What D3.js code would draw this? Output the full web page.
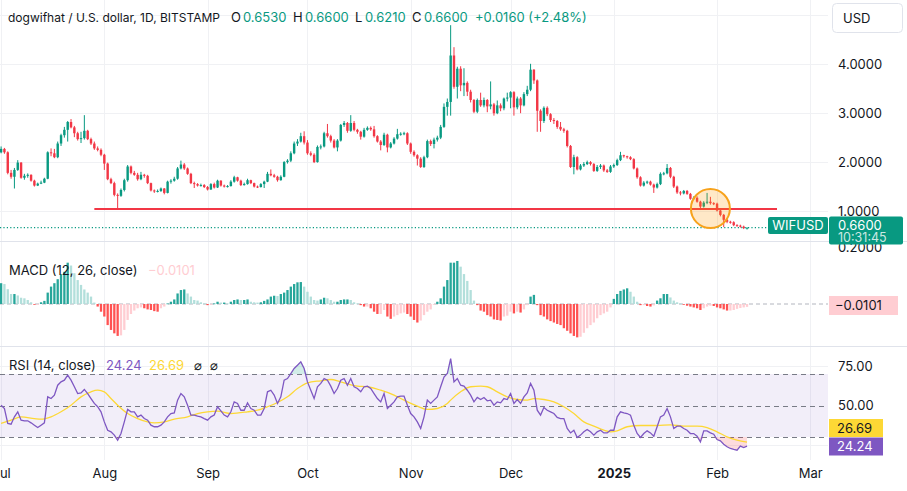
<!DOCTYPE html>
<html>
<head>
<meta charset="utf-8">
<script src="https://cdn.jsdelivr.net/npm/d3@7"></script>
<style>
  body { margin: 0; background: #fff; }
  svg { display: block; font-family: Inter, "Noto Sans", sans-serif; }
</style>
</head>
<body>
<svg></svg>
<script>
// ---- data (1 Jul 2024 .. 10 Feb 2025) ----
const startDay = "2024-07-01";
const firstOpen = 2.20;

const closes = [
  2.27, 2.20, 1.78, 1.70, 1.84, 1.99, 1.68, 1.72, 1.74, 1.62,
  1.52, 1.56, 1.58, 1.66, 2.20, 2.18, 2.10, 2.38, 2.55, 2.66,
  2.82, 2.71, 2.59, 2.47, 2.49, 2.64, 2.47, 2.38, 2.28, 2.25,
  2.15, 1.97, 1.65, 1.57, 1.33, 1.31, 1.43, 1.63, 1.91, 1.78,
  1.74, 1.65, 1.74, 1.72, 1.57, 1.42, 1.40, 1.41, 1.46, 1.37,
  1.60, 1.62, 1.66, 1.87, 1.95, 1.87, 1.76, 1.57, 1.55, 1.52,
  1.53, 1.49, 1.44, 1.55, 1.48, 1.62, 1.52, 1.50, 1.51, 1.60,
  1.69, 1.62, 1.53, 1.55, 1.63, 1.57, 1.50, 1.49, 1.55, 1.60,
  1.76, 1.73, 1.70, 1.63, 1.70, 2.00, 2.03, 2.18, 2.38, 2.42,
  2.53, 2.40, 2.18, 2.15, 2.00, 2.31, 2.32, 2.59, 2.53, 2.44,
  2.30, 2.44, 2.76, 2.80, 2.64, 2.80, 2.66, 2.62, 2.52, 2.66,
  2.70, 2.67, 2.53, 2.42, 2.35, 2.56, 2.30, 2.38, 2.48, 2.57,
  2.58, 2.59, 2.38, 2.21, 2.14, 2.07, 1.90, 2.10, 2.43, 2.37,
  2.46, 2.50, 2.72, 3.13, 3.23, 4.18, 3.54, 3.91, 3.57, 3.62,
  3.44, 3.27, 3.03, 3.27, 3.16, 3.27, 3.14, 3.18, 3.00, 3.16,
  3.10, 3.30, 3.32, 3.43, 3.12, 3.30, 3.16, 3.39, 3.48, 3.89,
  3.67, 3.05, 2.84, 3.11, 2.98, 2.86, 2.84, 2.72, 2.67, 2.64,
  2.33, 1.90, 2.10, 1.85, 1.93, 1.96, 2.00, 1.96, 1.82, 1.90,
  1.93, 1.83, 1.80, 1.91, 1.94, 2.04, 2.14, 2.12, 2.10, 2.06,
  1.87, 1.69, 1.52, 1.58, 1.60, 1.54, 1.48, 1.55, 1.76, 1.77,
  1.88, 1.70, 1.50, 1.38, 1.36, 1.41, 1.35, 1.25, 1.27, 1.19,
  1.09, 1.17, 1.19, 1.16, 1.15, 1.01, 0.92, 0.82, 0.78, 0.77,
  0.71, 0.70, 0.68, 0.653, 0.66
];
const highs = [
  2.32, 2.29, 2.22, 1.84, 1.88, 2.04, 2.00, 1.76, 1.77, 1.75,
  1.64, 1.58, 1.62, 1.68, 2.22, 2.28, 2.27, 2.42, 2.58, 2.72,
  2.84, 2.88, 2.74, 2.62, 2.62, 2.96, 2.66, 2.50, 2.42, 2.32,
  2.28, 2.17, 1.99, 1.68, 1.60, 1.36, 1.46, 1.66, 1.94, 1.93,
  1.82, 1.78, 1.80, 1.76, 1.74, 1.58, 1.44, 1.44, 1.48, 1.47,
  1.62, 1.65, 1.70, 1.90, 2.03, 1.98, 1.89, 1.78, 1.60, 1.57,
  1.56, 1.55, 1.51, 1.57, 1.58, 1.64, 1.63, 1.54, 1.53, 1.63,
  1.72, 1.70, 1.64, 1.58, 1.66, 1.64, 1.58, 1.52, 1.57, 1.62,
  1.80, 1.85, 1.76, 1.72, 1.73, 2.02, 2.06, 2.22, 2.42, 2.47,
  2.60, 2.63, 2.45, 2.22, 2.18, 2.34, 2.36, 2.62, 2.78, 2.56,
  2.47, 2.47, 2.78, 2.84, 2.82, 2.96, 2.84, 2.68, 2.64, 2.70,
  2.73, 2.73, 2.74, 2.55, 2.45, 2.60, 2.58, 2.41, 2.51, 2.68,
  2.61, 2.62, 2.61, 2.40, 2.24, 2.16, 2.10, 2.13, 2.46, 2.46,
  2.50, 2.54, 2.76, 3.20, 3.30, 4.80, 4.35, 3.95, 3.96, 3.92,
  3.65, 3.48, 3.29, 3.30, 3.42, 3.32, 3.29, 3.65, 3.21, 3.26,
  3.20, 3.32, 3.42, 3.45, 3.45, 3.34, 3.33, 3.43, 3.56, 4.01,
  3.90, 3.69, 3.08, 3.14, 3.14, 3.00, 2.90, 2.86, 2.82, 2.70,
  2.66, 2.35, 2.15, 2.12, 1.96, 2.00, 2.03, 2.02, 1.98, 1.94,
  1.96, 1.95, 1.86, 1.94, 1.97, 2.07, 2.21, 2.15, 2.13, 2.12,
  2.08, 1.89, 1.71, 1.61, 1.62, 1.62, 1.56, 1.58, 1.79, 1.80,
  1.96, 1.90, 1.72, 1.52, 1.41, 1.43, 1.43, 1.37, 1.30, 1.30,
  1.21, 1.20, 1.37, 1.29, 1.18, 1.17, 1.03, 0.94, 0.85, 0.80,
  0.79, 0.73, 0.72, 0.70, 0.66
];
const lows = [
  2.18, 2.17, 1.75, 1.66, 1.46, 1.82, 1.66, 1.64, 1.68, 1.60,
  1.50, 1.51, 1.55, 1.57, 1.65, 2.12, 2.08, 2.08, 2.33, 2.50,
  2.42, 2.69, 2.51, 2.44, 2.39, 2.46, 2.45, 2.35, 2.25, 2.22,
  2.12, 1.84, 1.63, 1.55, 1.30, 1.05, 1.29, 1.40, 1.60, 1.75,
  1.72, 1.62, 1.63, 1.68, 1.55, 1.40, 1.37, 1.38, 1.39, 1.34,
  1.36, 1.56, 1.60, 1.64, 1.85, 1.84, 1.74, 1.55, 1.47, 1.50,
  1.50, 1.47, 1.42, 1.43, 1.46, 1.47, 1.50, 1.48, 1.48, 1.50,
  1.58, 1.60, 1.51, 1.52, 1.54, 1.55, 1.48, 1.47, 1.48, 1.47,
  1.59, 1.71, 1.68, 1.60, 1.62, 1.69, 1.97, 2.00, 2.16, 2.33,
  2.40, 2.36, 2.15, 2.12, 1.98, 1.99, 2.26, 2.30, 2.50, 2.40,
  2.28, 2.22, 2.42, 2.72, 2.60, 2.62, 2.63, 2.58, 2.46, 2.50,
  2.64, 2.64, 2.50, 2.40, 2.24, 2.33, 2.20, 2.28, 2.36, 2.46,
  2.54, 2.55, 2.35, 2.17, 2.11, 1.93, 1.88, 1.88, 2.08, 2.33,
  2.28, 2.42, 2.47, 2.70, 2.95, 2.95, 3.50, 3.30, 3.45, 3.35,
  3.35, 3.22, 3.00, 3.00, 3.13, 3.12, 3.02, 3.08, 2.95, 2.98,
  3.04, 3.06, 3.24, 3.10, 2.95, 3.08, 3.00, 3.14, 3.35, 3.45,
  3.60, 2.62, 2.62, 2.80, 2.94, 2.82, 2.78, 2.68, 2.64, 2.60,
  2.30, 1.88, 1.75, 1.83, 1.83, 1.90, 1.94, 1.93, 1.80, 1.80,
  1.86, 1.80, 1.78, 1.78, 1.88, 1.92, 2.02, 2.09, 2.07, 2.04,
  1.85, 1.66, 1.50, 1.50, 1.55, 1.52, 1.37, 1.46, 1.53, 1.73,
  1.75, 1.67, 1.47, 1.35, 1.32, 1.34, 1.33, 1.23, 1.23, 1.17,
  1.02, 1.07, 1.14, 1.13, 1.12, 0.99, 0.89, 0.67, 0.75, 0.74,
  0.69, 0.68, 0.66, 0.63, 0.621
];
const macdHist = [
  0.073, 0.070, 0.052, 0.035, 0.035, 0.030, 0.022, 0.020, 0.014, 0.006,
  -0.002, -0.002, 0.006, 0.011, 0.040, 0.061, 0.073, 0.087, 0.105, 0.113,
  0.145, 0.135, 0.108, 0.084, 0.067, 0.051, 0.040, 0.026, 0.005, -0.009,
  -0.027, -0.044, -0.074, -0.091, -0.103, -0.112, -0.110, -0.091, -0.056, -0.035,
  -0.023, -0.015, -0.012, -0.015, -0.019, -0.021, -0.025, -0.027, -0.015, -0.009,
  0.002, 0.008, 0.016, 0.037, 0.049, 0.051, 0.037, 0.026, 0.014, 0.012,
  0.006, 0.002, -0.004, -0.001, 0.002, 0.008, 0.005, 0.005, 0.002, 0.008,
  0.014, 0.016, 0.014, 0.014, 0.016, 0.008, 0.006, 0.005, 0.006, 0.011,
  0.016, 0.026, 0.029, 0.028, 0.035, 0.040, 0.049, 0.061, 0.070, 0.076,
  0.077, 0.061, 0.043, 0.026, 0.014, 0.012, 0.016, 0.022, 0.020, 0.014,
  0.008, 0.008, 0.014, 0.016, 0.016, 0.014, 0.006, 0.002, -0.004, -0.009,
  -0.009, -0.015, -0.027, -0.035, -0.035, -0.021, -0.044, -0.052, -0.044, -0.039,
  -0.033, -0.030, -0.035, -0.044, -0.056, -0.065, -0.058, -0.039, -0.027, -0.019,
  -0.001, 0.008, 0.020, 0.061, 0.084, 0.145, 0.145, 0.151, 0.131, 0.105,
  0.081, 0.049, 0.012, -0.004, -0.023, -0.027, -0.039, -0.044, -0.054, -0.056,
  -0.058, -0.044, -0.041, -0.027, -0.033, -0.027, -0.030, -0.019, -0.004, 0.026,
  0.032, -0.004, -0.039, -0.044, -0.054, -0.060, -0.065, -0.070, -0.074, -0.085,
  -0.094, -0.103, -0.112, -0.117, -0.115, -0.101, -0.085, -0.074, -0.065, -0.050,
  -0.039, -0.033, -0.027, -0.012, 0.018, 0.035, 0.046, 0.051, 0.055, 0.043,
  0.026, 0.008, -0.004, -0.004, -0.007, -0.009, -0.005, 0.012, 0.020, 0.035,
  0.035, 0.023, 0.012, 0.006, 0.002, -0.001, -0.006, -0.009, -0.012, -0.015,
  -0.021, -0.015, -0.009, -0.006, -0.007, -0.012, -0.015, -0.019, -0.023, -0.023,
  -0.021, -0.017, -0.014, -0.012, -0.0101
];
const rsiValues = [
  50.2, 48.1, 38.6, 38.1, 42.8, 46.0, 40.7, 40.3, 40.3, 39.0,
  37.5, 36.0, 37.5, 39.0, 55.5, 54.4, 56.6, 62.9, 65.0, 66.1,
  69.3, 66.1, 61.9, 57.6, 58.0, 60.2, 57.6, 54.4, 51.3, 49.2,
  46.0, 39.6, 34.3, 33.3, 31.2, 28.0, 32.2, 39.6, 47.5, 46.0,
  46.0, 42.8, 43.9, 41.7, 40.7, 37.5, 36.5, 36.5, 37.5, 39.6,
  42.8, 44.9, 45.3, 53.4, 57.6, 55.5, 50.2, 43.9, 43.9, 43.2,
  42.8, 41.7, 40.7, 42.8, 43.9, 49.2, 46.6, 43.9, 42.8, 46.0,
  52.3, 51.3, 47.0, 47.0, 51.7, 48.1, 47.0, 43.9, 43.9, 48.1,
  58.7, 59.7, 56.6, 51.3, 55.5, 66.1, 67.1, 70.3, 73.5, 75.6,
  77.7, 73.5, 65.0, 59.7, 54.4, 61.9, 64.0, 67.1, 66.1, 62.3,
  57.6, 60.8, 66.1, 67.1, 62.9, 67.1, 61.9, 60.8, 58.7, 61.9,
  62.3, 60.8, 57.6, 54.4, 52.3, 57.6, 48.1, 50.2, 52.3, 55.5,
  56.0, 56.0, 50.2, 44.9, 42.8, 39.6, 35.4, 42.8, 53.4, 51.3,
  53.4, 55.5, 61.9, 68.1, 70.3, 79.8, 65.0, 67.1, 62.9, 62.3,
  59.7, 56.6, 52.3, 55.1, 53.8, 55.1, 53.0, 53.4, 50.2, 52.3,
  51.7, 54.4, 53.8, 57.6, 51.3, 53.8, 51.3, 55.5, 58.0, 64.0,
  59.7, 47.0, 43.9, 48.7, 47.0, 46.0, 44.9, 42.4, 41.7, 41.7,
  35.4, 32.6, 34.3, 29.7, 31.2, 33.3, 34.8, 33.3, 31.2, 33.3,
  34.3, 32.6, 32.6, 34.3, 34.3, 42.8, 46.0, 45.3, 44.9, 43.9,
  37.5, 32.2, 29.7, 32.2, 33.9, 32.6, 30.5, 36.5, 42.8, 43.9,
  48.1, 42.8, 35.4, 36.9, 36.9, 35.4, 34.3, 32.2, 32.2, 30.5,
  26.9, 33.9, 33.9, 32.6, 31.8, 28.4, 27.6, 25.4, 23.8, 22.7,
  22.1, 21.6, 24.2, 23.3, 24.24
];
// RSI moving average, read at [day index, value]
const rsiMaPoints = [
  [0, 38.6], [3, 40.7], [6, 42.8], [10, 41.7], [12, 41.3], [15, 42.8], [18, 46.0],
  [21, 50.2], [24, 55.5], [27, 58.7], [29, 59.7], [31, 58.7], [33, 54.4], [35, 50.2],
  [38, 44.9], [41, 41.7], [44, 39.6], [46, 39.0], [49, 39.6], [52, 41.3], [56, 42.8],
  [59, 44.9], [62, 46.0], [65, 46.4], [69, 44.9], [74, 46.0], [77, 47.0], [80, 49.2],
  [83, 51.9], [86, 55.5], [89, 60.8], [92, 64.4], [96, 65.7], [99, 66.5], [102, 65.0],
  [107, 62.3], [110, 61.9], [114, 59.7], [118, 56.6], [121, 53.4], [125, 49.6],
  [128, 47.5], [131, 48.1], [134, 51.3], [135, 53.4], [138, 58.7], [141, 61.9],
  [144, 62.3], [146, 61.9], [149, 58.7], [152, 55.5], [155, 53.8], [158, 53.4],
  [160, 54.4], [163, 53.8], [166, 52.3], [169, 49.2], [172, 44.9], [175, 39.6],
  [178, 36.9], [181, 34.3], [183, 33.3], [185, 33.9], [188, 36.5], [192, 37.3],
  [197, 37.3], [201, 37.7], [205, 36.9], [209, 36.9], [212, 36.0], [215, 33.3],
  [218, 30.1], [221, 28.0], [224, 26.69]
];

const priceTicks = [1, 2, 3, 4];
const priceGrid = [1, 2, 3, 4, 5];
const monthLabels = ["Jul", "Aug", "Sep", "Oct", "Nov", "Dec", "2025", "Feb", "Mar"];
const rsiTicks = [50, 75];
const rsiGrid = [25, 75];
const rsiLevels = [70, 50, 30];
const supportLevel = 1.04;
const title = "dogwifhat / U.S. dollar, 1D, BITSTAMP";
const ohlcLabels = ["O", "H", "L", "C"];
const ohlcValues = ["0.6530", "0.6600", "0.6210", "0.6600"];
const changeText = "+0.0160 (+2.48%)";
const lastPrice = 0.66;
const lastMacd = -0.0101;
const lastRsi = 24.24, lastRsiMa = 26.69;

// ---- drawing ----
const W = 907, H = 491, plotRight = 828;
const up = "#089981", down = "#f23645", textCol = "#131722", gridCol = "#f0f1f4";

const svg = d3.select("svg").attr("width", W).attr("height", H)
  .attr("viewBox", `0 0 ${W} ${H}`);

const parse = d3.utcParse("%Y-%m-%d");
const t0 = parse(startDay);
const candles = closes.map((c, i) => ({
  date: d3.utcDay.offset(t0, i),
  open: i ? closes[i - 1] : firstOpen,
  high: highs[i], low: lows[i], close: c
}));

const x = d3.scaleUtc().domain([parse("2024-07-01"), parse("2025-03-01")]).range([1.1, 810.3]);
const y = d3.scaleLinear().domain([1, 4]).range([211, 64.3]);
const macdY = d3.scaleLinear().domain([0, 0.2]).range([304, 247]);
const rsiY = d3.scaleLinear().domain([30, 70]).range([437, 374]);
const monthDates = d3.utcMonths(parse("2024-07-01"), parse("2025-03-02"));

const defs = svg.append("defs");
defs.append("clipPath").attr("id", "clipPrice").append("rect").attr("x", 0).attr("y", 0).attr("width", plotRight).attr("height", 241);
defs.append("clipPath").attr("id", "clipMacd").append("rect").attr("x", 0).attr("y", 242).attr("width", plotRight).attr("height", 104);
defs.append("clipPath").attr("id", "clipRsi").append("rect").attr("x", 0).attr("y", 347).attr("width", plotRight).attr("height", 113);

// grid
const grid = svg.append("g").attr("stroke", gridCol).attr("shape-rendering", "crispEdges");
grid.selectAll(".v").data(monthDates).enter().append("line")
  .attr("x1", d => Math.round(x(d)) + 0.5).attr("x2", d => Math.round(x(d)) + 0.5)
  .attr("y1", 0).attr("y2", 460);
grid.selectAll(".hp").data(priceGrid).enter().append("line")
  .attr("x1", 0).attr("x2", plotRight).attr("y1", d => Math.round(y(d)) + 0.5).attr("y2", d => Math.round(y(d)) + 0.5);
grid.selectAll(".hr").data(rsiGrid).enter().append("line")
  .attr("x1", 0).attr("x2", plotRight).attr("y1", d => Math.round(rsiY(d)) + 0.5).attr("y2", d => Math.round(rsiY(d)) + 0.5);

// pane separators
svg.append("g").attr("stroke", "#e0e3eb").attr("shape-rendering", "crispEdges")
  .selectAll("line").data([241.5, 346.5]).enter().append("line")
  .attr("x1", 0).attr("x2", W).attr("y1", d => d).attr("y2", d => d);

// ---- price pane ----
const pricePane = svg.append("g").attr("clip-path", "url(#clipPrice)");

pricePane.append("line")
  .attr("x1", 0).attr("x2", 768).attr("y1", y(lastPrice)).attr("y2", y(lastPrice))
  .attr("stroke", up).attr("stroke-width", 1.2).attr("stroke-dasharray", "1.2,2.2");

const bw = 2.4;
const candleG = pricePane.selectAll(".candle").data(candles).enter().append("g");
candleG.append("line")
  .attr("x1", d => x(d.date)).attr("x2", d => x(d.date))
  .attr("y1", d => y(d.high)).attr("y2", d => y(d.low))
  .attr("stroke", d => d.close >= d.open ? up : down).attr("stroke-width", 1);
candleG.append("rect")
  .attr("x", d => x(d.date) - bw / 2).attr("width", bw)
  .attr("y", d => y(Math.max(d.open, d.close)))
  .attr("height", d => Math.max(1, Math.abs(y(d.open) - y(d.close))))
  .attr("fill", d => d.close >= d.open ? up : down);

// support line
svg.append("line")
  .attr("x1", x(parse("2024-07-29"))).attr("x2", 777)
  .attr("y1", y(supportLevel)).attr("y2", y(supportLevel))
  .attr("stroke", down).attr("stroke-width", 2);

// highlight circle around the breakdown
svg.append("circle")
  .attr("cx", x(parse("2025-01-30"))).attr("cy", y(supportLevel) - 0.5)
  .attr("r", 19.5)
  .attr("fill", "rgba(255,152,0,0.22)").attr("stroke", "#f7a21b").attr("stroke-width", 2);

// ---- MACD pane ----
const macdPane = svg.append("g").attr("clip-path", "url(#clipMacd)");
macdPane.append("line")
  .attr("x1", 0).attr("x2", plotRight).attr("y1", macdY(0)).attr("y2", macdY(0))
  .attr("stroke", "#b2b5be").attr("stroke-dasharray", "4,3");
const histColor = (v, i) => {
  const prev = i ? macdHist[i - 1] : v;
  if (v >= 0) return v >= prev ? "#26a69a" : "#b2dfdb";
  return v < prev ? "#ff5252" : "#ffcdd2";
};
macdPane.selectAll(".bar").data(macdHist).enter().append("rect")
  .attr("x", (d, i) => x(candles[i].date) - 1.15).attr("width", 2.3)
  .attr("y", d => Math.min(macdY(d), macdY(0)))
  .attr("height", d => Math.max(0.8, Math.abs(macdY(d) - macdY(0))))
  .attr("fill", histColor);

// ---- RSI pane ----
const rsiPane = svg.append("g").attr("clip-path", "url(#clipRsi)");
rsiPane.append("rect")
  .attr("x", 0).attr("width", plotRight)
  .attr("y", rsiY(70)).attr("height", rsiY(30) - rsiY(70))
  .attr("fill", "rgba(126,87,194,0.1)");
rsiPane.selectAll(".lvl").data(rsiLevels).enter().append("line")
  .attr("x1", 0).attr("x2", plotRight).attr("y1", d => Math.round(rsiY(d)) + 0.5).attr("y2", d => Math.round(rsiY(d)) + 0.5)
  .attr("stroke", "#787b86").attr("stroke-dasharray", "5,4");

const rsiData = rsiValues.map((v, i) => ({ date: candles[i].date, v }));
rsiPane.append("path").datum(rsiData)
  .attr("fill", "rgba(8,153,129,0.18)")
  .attr("d", d3.area().x(d => x(d.date)).y0(rsiY(70)).y1(d => rsiY(Math.max(70, d.v))));
rsiPane.append("path").datum(rsiData)
  .attr("fill", "rgba(242,54,69,0.18)")
  .attr("d", d3.area().x(d => x(d.date)).y0(rsiY(30)).y1(d => rsiY(Math.min(30, d.v))));

rsiPane.append("path").datum(rsiMaPoints)
  .attr("fill", "none").attr("stroke", "#fdd835").attr("stroke-width", 1.3)
  .attr("d", d3.line().curve(d3.curveMonotoneX)
    .x(d => x(d3.utcDay.offset(t0, d[0]))).y(d => rsiY(d[1])));
rsiPane.append("path").datum(rsiData)
  .attr("fill", "none").attr("stroke", "#7e57c2").attr("stroke-width", 1.3)
  .attr("d", d3.line().x(d => x(d.date)).y(d => rsiY(d.v)));

// ---- axes ----
const axisFont = g => g.call(s => s.select(".domain").remove())
  .selectAll("text").attr("fill", textCol).attr("font-size", 13).attr("font-family", "Inter, 'Noto Sans', sans-serif");

svg.append("g").attr("transform", `translate(${plotRight},0)`)
  .call(d3.axisRight(y).tickValues(priceTicks).tickFormat(d3.format(".4f")).tickSize(0).tickPadding(10))
  .call(axisFont);

svg.append("g").attr("transform", `translate(${plotRight},0)`)
  .call(d3.axisRight(macdY).tickValues([0.2]).tickFormat(d3.format(".4f")).tickSize(0).tickPadding(10))
  .call(axisFont);

svg.append("g").attr("transform", `translate(${plotRight},0)`)
  .call(d3.axisRight(rsiY).tickValues(rsiTicks).tickFormat(d3.format(".2f")).tickSize(0).tickPadding(10))
  .call(axisFont);

const xAxis = svg.append("g").attr("transform", "translate(0,469)")
  .call(d3.axisBottom(x).tickValues(monthDates).tickFormat((d, i) => monthLabels[i]).tickSize(0).tickPadding(0))
  .call(axisFont);
xAxis.selectAll("text").attr("font-weight", (d, i) => monthLabels[i] === "2025" ? 700 : 400);

// ---- labels on the right scale ----
const fmtMinus = v => d3.format(".4f")(v).replace("-", "\u2212");

svg.append("rect").attr("x", 768).attr("y", 217).attr("width", 60).attr("height", 17).attr("rx", 2).attr("fill", up);
svg.append("text").attr("x", 798).attr("y", 230).attr("text-anchor", "middle")
  .attr("fill", "#fff").attr("font-size", 13).text("WIFUSD");
svg.append("rect").attr("x", 829).attr("y", 216.5).attr("width", 74).attr("height", 28).attr("rx", 2).attr("fill", up);
svg.append("text").attr("x", 838).attr("y", 229.5).attr("fill", "#fff").attr("font-size", 13).text(d3.format(".4f")(lastPrice));
svg.append("text").attr("x", 838).attr("y", 242).attr("fill", "rgba(255,255,255,0.8)").attr("font-size", 12.5).text("10:31:45");

svg.append("rect").attr("x", 829).attr("y", 296).attr("width", 69).attr("height", 19).attr("fill", "#ffcdd2");
svg.append("text").attr("x", 835).attr("y", 310).attr("fill", textCol).attr("font-size", 13).text(fmtMinus(lastMacd));

svg.append("rect").attr("x", 829).attr("y", 419).attr("width", 54).attr("height", 18).attr("fill", "#fdd835");
svg.append("text").attr("x", 837).attr("y", 432.5).attr("fill", textCol).attr("font-size", 13).text(lastRsiMa.toFixed(2));
svg.append("rect").attr("x", 829).attr("y", 437.5).attr("width", 54).attr("height", 18).attr("fill", "#7e57c2");
svg.append("text").attr("x", 837).attr("y", 451).attr("fill", "#fff").attr("font-size", 13).text(lastRsi.toFixed(2));

// USD badge
svg.append("rect").attr("x", 832.5).attr("y", 3.5).attr("width", 70).attr("height", 29).attr("rx", 4)
  .attr("fill", "#fff").attr("stroke", "#e0e3eb");
svg.append("text").attr("x", 843).attr("y", 22.5).attr("fill", textCol).attr("font-size", 13).text("USD");

// ---- legends (segment x positions as in the original layout) ----
const legendText = (yBase, parts) => parts.forEach(p =>
  svg.append("text").attr("x", p[0]).attr("y", yBase).attr("font-size", p[3] || 13)
    .attr("fill", p[2]).text(p[1]));

legendText(21.5, [
  [8, title, textCol, 12],
  [231, ohlcLabels[0], textCol], [243, ohlcValues[0], up],
  [293, ohlcLabels[1], textCol], [305, ohlcValues[1], up],
  [355, ohlcLabels[2], textCol], [365, ohlcValues[2], up],
  [412, ohlcLabels[3], textCol], [424, ohlcValues[3], up],
  [475, changeText, up]
]);
legendText(274.5, [
  [9, "MACD (12, 26, close)", textCol],
  [148, fmtMinus(lastMacd), "#ffcdd2"]
]);
legendText(369.5, [
  [9, "RSI (14, close)", textCol],
  [106, lastRsi.toFixed(2), "#7e57c2"],
  [149, lastRsiMa.toFixed(2), "#fdd835"],
  [194, "\u2300", textCol],
  [210, "\u2300", textCol]
]);
</script>
</body>
</html>
